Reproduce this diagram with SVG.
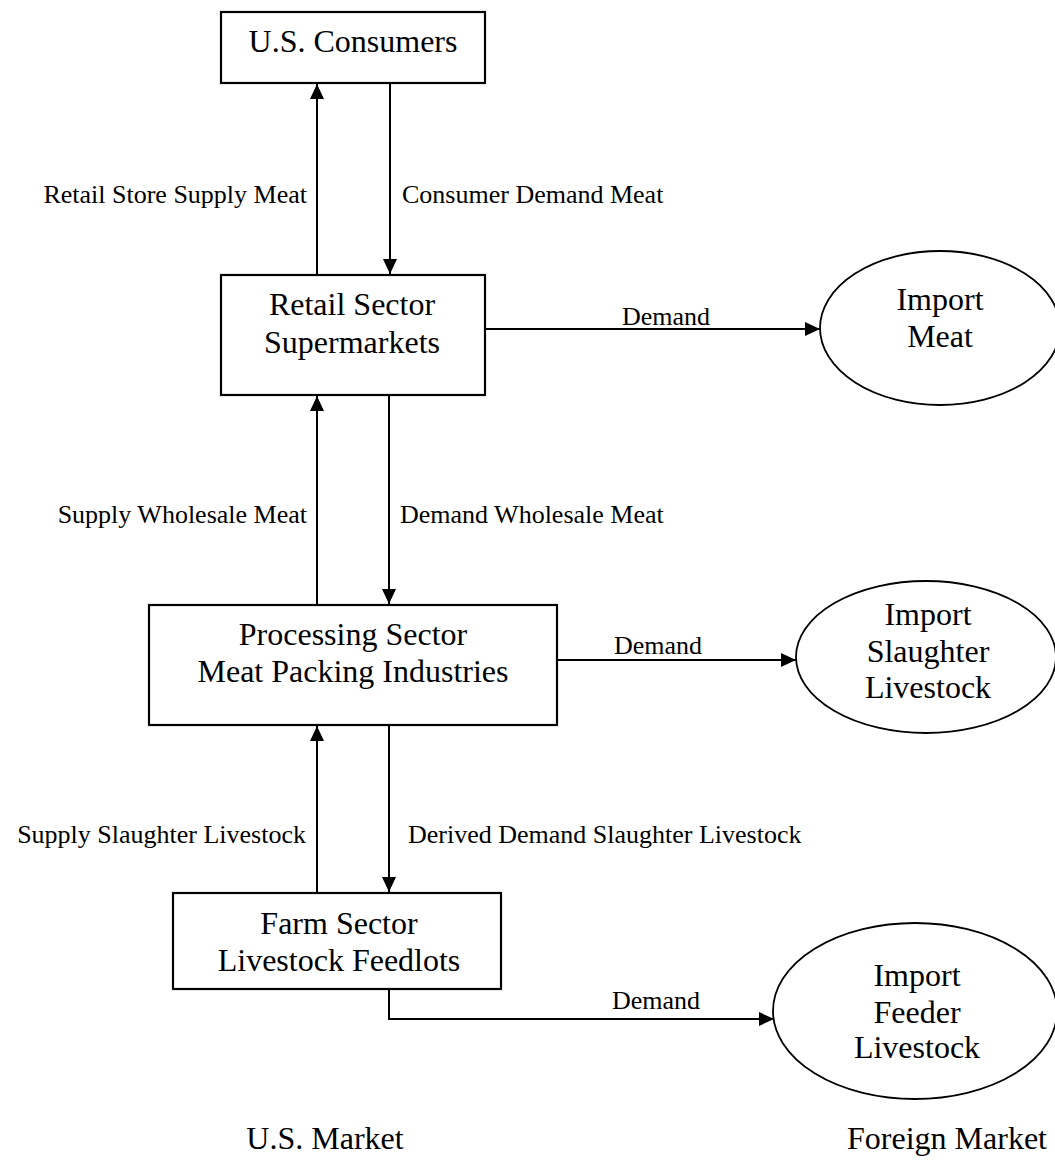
<svg xmlns="http://www.w3.org/2000/svg" width="1055" height="1165" viewBox="0 0 1055 1165">
<style>
.box{fill:#fff;stroke:#000;stroke-width:2.2}
.ell{fill:#fff;stroke:#000;stroke-width:1.8}
.t{font-family:"Liberation Serif","Times New Roman",serif;font-size:32px;fill:#000;text-anchor:middle}
.lb{font-family:"Liberation Serif","Times New Roman",serif;font-size:26px;fill:#000}
.c{fill:none;stroke:#000;stroke-width:2}
</style>
<defs>
<marker id="ah" markerUnits="userSpaceOnUse" markerWidth="16" markerHeight="14" refX="15" refY="7" orient="auto">
<path d="M0,0 L15,7 L0,14 Z" fill="#000"/>
</marker>
</defs>
<rect width="1055" height="1165" fill="#fff"/>
<g id="connectors">
<line class="c" x1="317" y1="275" x2="317" y2="84" marker-end="url(#ah)"/>
<line class="c" x1="390" y1="83" x2="390" y2="274" marker-end="url(#ah)"/>
<line class="c" x1="485" y1="329" x2="820" y2="329" marker-end="url(#ah)"/>
<line class="c" x1="317" y1="605" x2="317" y2="396" marker-end="url(#ah)"/>
<line class="c" x1="389" y1="395" x2="389" y2="604" marker-end="url(#ah)"/>
<line class="c" x1="557" y1="660" x2="796" y2="660" marker-end="url(#ah)"/>
<line class="c" x1="317" y1="893" x2="317" y2="726" marker-end="url(#ah)"/>
<line class="c" x1="389" y1="725" x2="389" y2="892" marker-end="url(#ah)"/>
<polyline class="c" points="389,989 389,1019 774,1019" marker-end="url(#ah)"/>
<text class="lb" x="307" y="203" text-anchor="end">Retail Store Supply Meat</text>
<text class="lb" x="402" y="203">Consumer Demand Meat</text>
<text class="lb" x="622" y="325">Demand</text>
<text class="lb" x="307" y="523" text-anchor="end">Supply Wholesale Meat</text>
<text class="lb" x="400" y="523">Demand Wholesale Meat</text>
<text class="lb" x="614" y="654">Demand</text>
<text class="lb" x="306" y="843" text-anchor="end">Supply Slaughter Livestock</text>
<text class="lb" x="408" y="843">Derived Demand Slaughter Livestock</text>
<text class="lb" x="612" y="1009">Demand</text>
</g>
<g id="us-consumers">
<rect class="box" x="221" y="12" width="264" height="71"/>
<text class="t" x="353" y="52">U.S. Consumers</text>
</g>
<g id="retail-sector">
<rect class="box" x="221" y="275" width="264" height="120"/>
<text class="t" x="352" y="315">Retail Sector</text>
<text class="t" x="352" y="353">Supermarkets</text>
</g>
<g id="processing-sector">
<rect class="box" x="149" y="605" width="408" height="120"/>
<text class="t" x="353" y="645">Processing Sector</text>
<text class="t" x="353" y="682">Meat Packing Industries</text>
</g>
<g id="farm-sector">
<rect class="box" x="173" y="893" width="328" height="96"/>
<text class="t" x="339" y="934">Farm Sector</text>
<text class="t" x="339" y="971">Livestock Feedlots</text>
</g>
<g id="import-meat">
<ellipse class="ell" cx="940" cy="328" rx="120" ry="77"/>
<text class="t" x="940" y="310">Import</text>
<text class="t" x="940" y="347">Meat</text>
</g>
<g id="import-slaughter">
<ellipse class="ell" cx="926" cy="657" rx="130" ry="76"/>
<text class="t" x="928" y="625">Import</text>
<text class="t" x="928" y="662">Slaughter</text>
<text class="t" x="928" y="698">Livestock</text>
</g>
<g id="import-feeder">
<ellipse class="ell" cx="915" cy="1011" rx="142" ry="88"/>
<text class="t" x="917" y="986">Import</text>
<text class="t" x="917" y="1023">Feeder</text>
<text class="t" x="917" y="1058">Livestock</text>
</g>
<g id="region-labels">
<text class="t" x="325" y="1149">U.S. Market</text>
<text class="t" x="947" y="1149">Foreign Market</text>
</g>
</svg>
